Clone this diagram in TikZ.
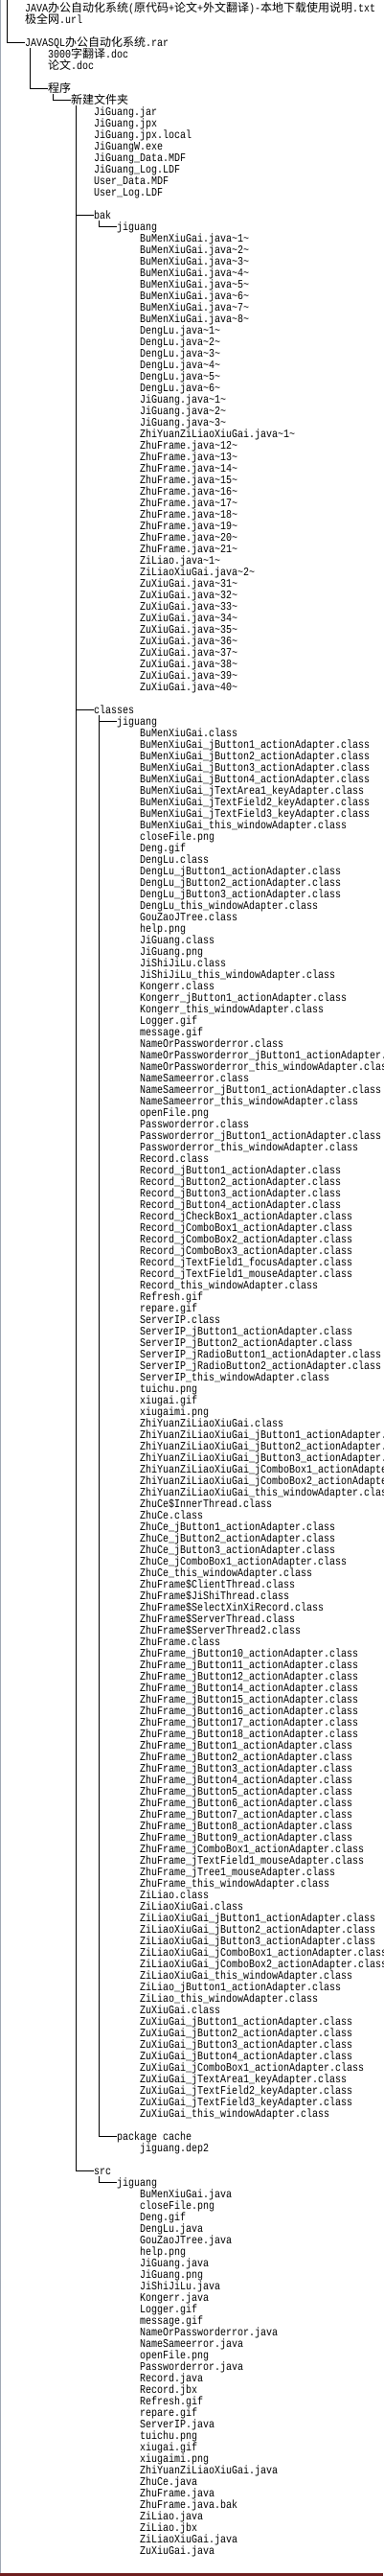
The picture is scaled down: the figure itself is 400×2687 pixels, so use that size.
\documentclass[tikz,border=0pt]{standalone}
\usepackage{fontspec}
\newfontfamily\treefont[FakeStretch=0.8333]{Liberation Mono}
\newfontfamily\cjk{Noto Sans CJK SC}
\newcommand{\tld}{\textasciitilde}
\definecolor{framegray}{HTML}{A0A8B4}
\definecolor{barred}{HTML}{6E1E1E}
\tikzset{
  entry/.style={anchor=west, inner sep=0pt, text height=10pt, text depth=2pt,
    font=\treefont\fontsize{12pt}{14pt}\selectfont},
  branch/.style={line width=1pt, black},
}
\begin{document}
\begin{tikzpicture}[x=1pt, y=-1pt]
            \useasboundingbox (0,0) rectangle (400,2687);
            \clip (0,0) rectangle (400,2687);
            \fill[white] (0,0) rectangle (400,2687);
            \draw[framegray, line width=1pt] (0.5,0) -- (0.5,2687);
            \fill[barred] (0,2684) rectangle (400,2687);

            \path (7.5, 0) coordinate (T0);
            \path (31.5, 50) coordinate (T1);
            \path (55.5, 98) coordinate (T2);
            \path (79.5, 110) coordinate (T3);
            \path (103.5, 230) coordinate (T4);
            \path (103.5, 746) coordinate (T5);
            \path (103.5, 2270) coordinate (T6);

            \node[entry] (R1) at (26, 8.5) {JAVA{\cjk 办公自动化系统}({\cjk 原代码}+{\cjk 论文}+{\cjk 外文翻译})-{\cjk 本地下载使用说明}.txt};
            \node[entry] (R2) at (26, 8.5+12*1) {{\cjk 极全网}.url};
            \node[entry] (RAR) at (26, 8.5+12*3) {JAVASQL{\cjk 办公自动化系统}.rar};
            \node[entry] (D1) at (50, 8.5+12*4) {3000{\cjk 字翻译}.doc};
            \node[entry] (D2) at (50, 8.5+12*5) {{\cjk 论文}.doc};
            \node[entry] (PRG) at (50, 8.5+12*7) {{\cjk 程序}};
            \node[entry] (NEW) at (74, 8.5+12*8) {{\cjk 新建文件夹}};

            \foreach \f [count=\k from 9] in {JiGuang.jar, JiGuang.jpx, JiGuang.jpx.local, JiGuangW.exe,
                JiGuang\_Data.MDF, JiGuang\_Log.LDF, User\_Data.MDF, User\_Log.LDF}
                \node[entry] (F\k) at (98, 8.5+12*\k) {\f};

            \node[entry] (BAK) at (98, 8.5+12*18) {bak};
            \node[entry] (BJG) at (122, 8.5+12*19) {jiguang};
            \foreach \n [count=\k from 20] in {1,...,8}
                \node[entry] (B\k) at (146, 8.5+12*\k) {BuMenXiuGai.java\tld\n\tld};
            \foreach \n [count=\k from 28] in {1,...,6}
                \node[entry] (B\k) at (146, 8.5+12*\k) {DengLu.java\tld\n\tld};
            \foreach \n [count=\k from 34] in {1,...,3}
                \node[entry] (B\k) at (146, 8.5+12*\k) {JiGuang.java\tld\n\tld};
            \node[entry] (B37) at (146, 8.5+12*37) {ZhiYuanZiLiaoXiuGai.java\tld1\tld};
            \foreach \n [count=\k from 38] in {12,...,21}
                \node[entry] (B\k) at (146, 8.5+12*\k) {ZhuFrame.java\tld\n\tld};
            \node[entry] (B48) at (146, 8.5+12*48) {ZiLiao.java\tld1\tld};
            \node[entry] (B49) at (146, 8.5+12*49) {ZiLiaoXiuGai.java\tld2\tld};
            \foreach \n [count=\k from 50] in {31,...,40}
                \node[entry] (B\k) at (146, 8.5+12*\k) {ZuXiuGai.java\tld\n\tld};

            \node[entry] (CLS) at (98, 8.5+12*61) {classes};
            \node[entry] (CJG) at (122, 8.5+12*62) {jiguang};
            \foreach \f [count=\k from 63] in {BuMenXiuGai.class,
                BuMenXiuGai\_jButton1\_actionAdapter.class, BuMenXiuGai\_jButton2\_actionAdapter.class,
                BuMenXiuGai\_jButton3\_actionAdapter.class, BuMenXiuGai\_jButton4\_actionAdapter.class,
                BuMenXiuGai\_jTextArea1\_keyAdapter.class, BuMenXiuGai\_jTextField2\_keyAdapter.class,
                BuMenXiuGai\_jTextField3\_keyAdapter.class, BuMenXiuGai\_this\_windowAdapter.class,
                closeFile.png, Deng.gif, DengLu.class,
                DengLu\_jButton1\_actionAdapter.class, DengLu\_jButton2\_actionAdapter.class,
                DengLu\_jButton3\_actionAdapter.class, DengLu\_this\_windowAdapter.class,
                GouZaoJTree.class, help.png, JiGuang.class, JiGuang.png,
                JiShiJiLu.class, JiShiJiLu\_this\_windowAdapter.class,
                Kongerr.class, Kongerr\_jButton1\_actionAdapter.class, Kongerr\_this\_windowAdapter.class,
                Logger.gif, message.gif,
                NameOrPassworderror.class, NameOrPassworderror\_jButton1\_actionAdapter.class,
                NameOrPassworderror\_this\_windowAdapter.class,
                NameSameerror.class, NameSameerror\_jButton1\_actionAdapter.class,
                NameSameerror\_this\_windowAdapter.class,
                openFile.png,
                Passworderror.class, Passworderror\_jButton1\_actionAdapter.class,
                Passworderror\_this\_windowAdapter.class,
                Record.class, Record\_jButton1\_actionAdapter.class, Record\_jButton2\_actionAdapter.class,
                Record\_jButton3\_actionAdapter.class, Record\_jButton4\_actionAdapter.class,
                Record\_jCheckBox1\_actionAdapter.class, Record\_jComboBox1\_actionAdapter.class,
                Record\_jComboBox2\_actionAdapter.class, Record\_jComboBox3\_actionAdapter.class,
                Record\_jTextField1\_focusAdapter.class, Record\_jTextField1\_mouseAdapter.class,
                Record\_this\_windowAdapter.class,
                Refresh.gif, repare.gif,
                ServerIP.class, ServerIP\_jButton1\_actionAdapter.class, ServerIP\_jButton2\_actionAdapter.class,
                ServerIP\_jRadioButton1\_actionAdapter.class, ServerIP\_jRadioButton2\_actionAdapter.class,
                ServerIP\_this\_windowAdapter.class,
                tuichu.png, xiugai.gif, xiugaimi.png,
                ZhiYuanZiLiaoXiuGai.class,
                ZhiYuanZiLiaoXiuGai\_jButton1\_actionAdapter.class, ZhiYuanZiLiaoXiuGai\_jButton2\_actionAdapter.class,
                ZhiYuanZiLiaoXiuGai\_jButton3\_actionAdapter.class, ZhiYuanZiLiaoXiuGai\_jComboBox1\_actionAdapter.class,
                ZhiYuanZiLiaoXiuGai\_jComboBox2\_actionAdapter.class, ZhiYuanZiLiaoXiuGai\_this\_windowAdapter.class,
                ZhuCe\$InnerThread.class, ZhuCe.class,
                ZhuCe\_jButton1\_actionAdapter.class, ZhuCe\_jButton2\_actionAdapter.class,
                ZhuCe\_jButton3\_actionAdapter.class, ZhuCe\_jComboBox1\_actionAdapter.class,
                ZhuCe\_this\_windowAdapter.class,
                ZhuFrame\$ClientThread.class, ZhuFrame\$JiShiThread.class, ZhuFrame\$SelectXinXiRecord.class,
                ZhuFrame\$ServerThread.class, ZhuFrame\$ServerThread2.class, ZhuFrame.class,
                ZhuFrame\_jButton10\_actionAdapter.class, ZhuFrame\_jButton11\_actionAdapter.class,
                ZhuFrame\_jButton12\_actionAdapter.class, ZhuFrame\_jButton14\_actionAdapter.class,
                ZhuFrame\_jButton15\_actionAdapter.class, ZhuFrame\_jButton16\_actionAdapter.class,
                ZhuFrame\_jButton17\_actionAdapter.class, ZhuFrame\_jButton18\_actionAdapter.class,
                ZhuFrame\_jButton1\_actionAdapter.class, ZhuFrame\_jButton2\_actionAdapter.class,
                ZhuFrame\_jButton3\_actionAdapter.class, ZhuFrame\_jButton4\_actionAdapter.class,
                ZhuFrame\_jButton5\_actionAdapter.class, ZhuFrame\_jButton6\_actionAdapter.class,
                ZhuFrame\_jButton7\_actionAdapter.class, ZhuFrame\_jButton8\_actionAdapter.class,
                ZhuFrame\_jButton9\_actionAdapter.class, ZhuFrame\_jComboBox1\_actionAdapter.class,
                ZhuFrame\_jTextField1\_mouseAdapter.class, ZhuFrame\_jTree1\_mouseAdapter.class,
                ZhuFrame\_this\_windowAdapter.class,
                ZiLiao.class, ZiLiaoXiuGai.class,
                ZiLiaoXiuGai\_jButton1\_actionAdapter.class, ZiLiaoXiuGai\_jButton2\_actionAdapter.class,
                ZiLiaoXiuGai\_jButton3\_actionAdapter.class, ZiLiaoXiuGai\_jComboBox1\_actionAdapter.class,
                ZiLiaoXiuGai\_jComboBox2\_actionAdapter.class, ZiLiaoXiuGai\_this\_windowAdapter.class,
                ZiLiao\_jButton1\_actionAdapter.class, ZiLiao\_this\_windowAdapter.class,
                ZuXiuGai.class,
                ZuXiuGai\_jButton1\_actionAdapter.class, ZuXiuGai\_jButton2\_actionAdapter.class,
                ZuXiuGai\_jButton3\_actionAdapter.class, ZuXiuGai\_jButton4\_actionAdapter.class,
                ZuXiuGai\_jComboBox1\_actionAdapter.class, ZuXiuGai\_jTextArea1\_keyAdapter.class,
                ZuXiuGai\_jTextField2\_keyAdapter.class, ZuXiuGai\_jTextField3\_keyAdapter.class,
                ZuXiuGai\_this\_windowAdapter.class}
                \node[entry] (C\k) at (146, 8.5+12*\k) {\f};

            \node[entry] (PKG) at (122, 8.5+12*185) {package cache};
            \node[entry] (DEP) at (146, 8.5+12*186) {jiguang.dep2};

            \node[entry] (SRC) at (98, 8.5+12*188) {src};
            \node[entry] (SJG) at (122, 8.5+12*189) {jiguang};
            \foreach \f [count=\k from 190] in {BuMenXiuGai.java, closeFile.png, Deng.gif, DengLu.java,
                GouZaoJTree.java, help.png, JiGuang.java, JiGuang.png, JiShiJiLu.java, Kongerr.java,
                Logger.gif, message.gif, NameOrPassworderror.java, NameSameerror.java, openFile.png,
                Passworderror.java, Record.java, Record.jbx, Refresh.gif, repare.gif, ServerIP.java,
                tuichu.png, xiugai.gif, xiugaimi.png, ZhiYuanZiLiaoXiuGai.java, ZhuCe.java,
                ZhuFrame.java, ZhuFrame.java.bak, ZiLiao.java, ZiLiao.jbx, ZiLiaoXiuGai.java, ZuXiuGai.java}
                \node[entry] (S\k) at (146, 8.5+12*\k) {\f};

            \draw[branch] (T0) |- (RAR.west);
            \draw[branch] (T1) |- (PRG.west);
            \draw[branch] (T2) |- (NEW.west);
            \draw[branch] (T3) |- (SRC.west);
            \draw[branch] (BAK.west -| T3) -- (BAK.west);
            \draw[branch] (CLS.west -| T3) -- (CLS.west);
            \draw[branch] (T4) |- (BJG.west);
            \draw[branch] (T5) |- (PKG.west);
            \draw[branch] (CJG.west -| T5) -- (CJG.west);
            \draw[branch] (T6) |- (SJG.west);
\end{tikzpicture}
\end{document}
